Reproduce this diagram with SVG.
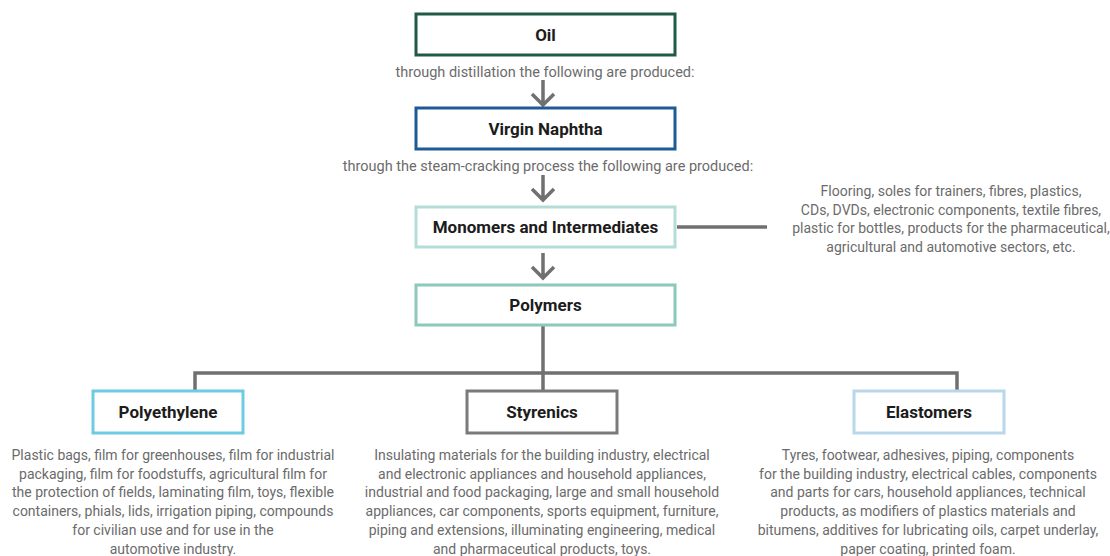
<svg xmlns="http://www.w3.org/2000/svg" width="1110" height="556" viewBox="0 0 1110 556">
<style>
.box{fill:#fff;stroke-width:3}
.lbl{font-family:Roboto,"Liberation Sans",sans-serif;font-weight:bold;font-size:17px;fill:#1c1c1c;text-anchor:middle}
.txt{font-family:Roboto,"Liberation Sans",sans-serif;font-size:14px;fill:#6b6b6b;text-anchor:middle}
.top{font-size:14.5px}
.con{fill:none;stroke:#707070;stroke-width:3.5}
</style>
<rect width="1110" height="556" fill="#fff"/>
<g id="connectors">
<path class="con" d="M543 80V105M532 94L543 105L554 94"/>
<path class="con" d="M543 175V200M532 189L543 200L554 189"/>
<path class="con" d="M543 253V278M532 267L543 278L554 267"/>
<path class="con" d="M677 227H767"/>
<path class="con" d="M543 325V373M195 391V373H957V391M543 373V391"/>
</g>
<g id="oil">
<rect class="box" x="416" y="14" width="259" height="41" stroke="#1e5a46"/>
<text class="lbl" x="545.5" y="40.5">Oil</text>
</g>
<text class="txt top" x="545" y="77">through distillation the following are produced:</text>
<g id="naphtha">
<rect class="box" x="416" y="108" width="259" height="41" stroke="#1d5a96"/>
<text class="lbl" x="545.5" y="134.5">Virgin Naphtha</text>
</g>
<text class="txt top" x="548" y="171">through the steam-cracking process the following are produced:</text>
<g id="monomers">
<rect class="box" x="416" y="207" width="259" height="40" stroke="#b3ddd8"/>
<text class="lbl" x="545.5" y="233">Monomers and Intermediates</text>
</g>
<g id="monomers-uses">
<text class="txt" x="951" y="196">Flooring, soles for trainers, fibres, plastics,</text>
<text class="txt" x="951" y="214.5">CDs, DVDs, electronic components, textile fibres,</text>
<text class="txt" x="951" y="233">plastic for bottles, products for the pharmaceutical,</text>
<text class="txt" x="951" y="251.5">agricultural and automotive sectors, etc.</text>
</g>
<g id="polymers">
<rect class="box" x="416" y="285" width="259" height="40" stroke="#8cc8bc"/>
<text class="lbl" x="545.5" y="311">Polymers</text>
</g>
<g id="polyethylene">
<rect class="box" x="93" y="391" width="150" height="42" stroke="#6ecbe4"/>
<text class="lbl" x="168" y="418">Polyethylene</text>
<text class="txt" x="173" y="460">Plastic bags, film for greenhouses, film for industrial</text>
<text class="txt" x="173" y="478.7">packaging, film for foodstuffs, agricultural film for</text>
<text class="txt" x="173" y="497.4">the protection of fields, laminating film, toys, flexible</text>
<text class="txt" x="173" y="516.1">containers, phials, lids, irrigation piping, compounds</text>
<text class="txt" x="173" y="534.8">for civilian use and for use in the</text>
<text class="txt" x="173" y="553.5">automotive industry.</text>
</g>
<g id="styrenics">
<rect class="box" x="467" y="391" width="150" height="42" stroke="#7a7a7a"/>
<text class="lbl" x="542" y="418">Styrenics</text>
<text class="txt" x="542" y="460">Insulating materials for the building industry, electrical</text>
<text class="txt" x="542" y="478.7">and electronic appliances and household appliances,</text>
<text class="txt" x="542" y="497.4">industrial and food packaging, large and small household</text>
<text class="txt" x="542" y="516.1">appliances, car components, sports equipment, furniture,</text>
<text class="txt" x="542" y="534.8">piping and extensions, illuminating engineering, medical</text>
<text class="txt" x="542" y="553.5">and pharmaceutical products, toys.</text>
</g>
<g id="elastomers">
<rect class="box" x="854" y="391" width="150" height="42" stroke="#b8d7ea"/>
<text class="lbl" x="929" y="418">Elastomers</text>
<text class="txt" x="928" y="460">Tyres, footwear, adhesives, piping, components</text>
<text class="txt" x="928" y="478.7">for the building industry, electrical cables, components</text>
<text class="txt" x="928" y="497.4">and parts for cars, household appliances, technical</text>
<text class="txt" x="928" y="516.1">products, as modifiers of plastics materials and</text>
<text class="txt" x="928" y="534.8">bitumens, additives for lubricating oils, carpet underlay,</text>
<text class="txt" x="928" y="553.5">paper coating, printed foam.</text>
</g>
</svg>
